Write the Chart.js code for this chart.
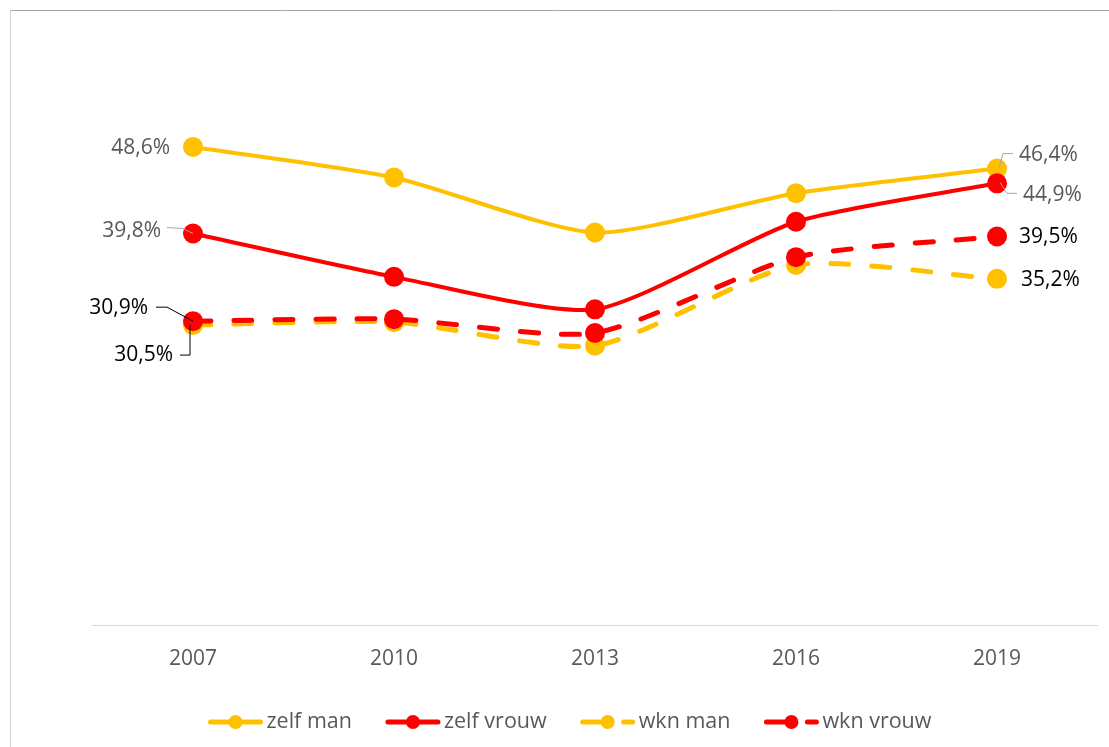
<!DOCTYPE html>
<html>
<head>
<meta charset="utf-8">
<script src="https://cdn.jsdelivr.net/npm/chart.js@4.4.1/dist/chart.umd.min.js"></script>
<style>
  html, body { margin: 0; padding: 0; background: #fff; }
  canvas { display: block; }
</style>
</head>
<body>
<canvas id="chart" width="1109" height="747"></canvas>
<script>
// data
const years = ['2007', '2010', '2013', '2016', '2019'];
const zelfMan = [48.6, 45.5, 39.9, 43.9, 46.4];
const zelfVrouw = [39.8, 35.4, 32.1, 41.0, 44.9];
const wknMan = [30.5, 30.8, 28.4, 36.6, 35.2];
const wknVrouw = [30.9, 31.1, 29.7, 37.4, 39.5];
const seriesNames = ['zelf man', 'zelf vrouw', 'wkn man', 'wkn vrouw'];

const YELLOW = '#FFC000';
const RED = '#FF0000';
const GREY_TEXT = '#595959';
const FONT = '"Open Sans", "DejaVu Sans", sans-serif';
const DASH = [18, 23];

// where the data labels go (offsets from their point), per series
const labelSpecs = [
  [
    { i: 0, dx: -23, dy: 1, align: 'right', color: GREY_TEXT },
    { i: 4, dx: 22, dy: -14, align: 'left', color: GREY_TEXT, leader: [[16, -15], [6, -15], [2, -1]], leaderColor: '#a6a6a6' }
  ],
  [
    { i: 0, dx: -32, dy: -3, align: 'right', color: GREY_TEXT, leader: [[-26, -6], [-10, -5], [0, 0]], leaderColor: '#a6a6a6' },
    { i: 4, dx: 26, dy: 12, align: 'left', color: GREY_TEXT, leader: [[3, -1], [10, 10], [20, 10]], leaderColor: '#a6a6a6' }
  ],
  [
    { i: 0, dx: -20, dy: 30, align: 'right', color: '#000', leader: [[-13, 30], [-3, 30], [-3, 0]], leaderColor: '#000' },
    { i: 4, dx: 24, dy: 1, align: 'left', color: '#000' }
  ],
  [
    { i: 0, dx: -45, dy: -13, align: 'right', color: '#000', leader: [[-37, -14], [-26, -14], [0, 0]], leaderColor: '#000' },
    { i: 4, dx: 22, dy: 1, align: 'left', color: '#000' }
  ]
];

function fmt(v) {
  return v.toFixed(1).replace('.', ',') + '%';
}

function makeSet(label, data, color, dashed, order) {
  return {
    label,
    data,
    borderColor: color,
    backgroundColor: color,
    borderWidth: dashed ? 5 : 4,
    borderDash: dashed ? DASH : [],
    borderCapStyle: 'round',
    pointRadius: 10,
    pointBorderWidth: 0,
    pointBackgroundColor: color,
    tension: 0.22,
    order
  };
}

// thin frame at the top and left edge
const framePlugin = {
  id: 'frame',
  beforeDraw(chart) {
    const ctx = chart.ctx;
    ctx.save();
    ctx.fillStyle = '#fff';
    ctx.fillRect(0, 0, chart.width, chart.height);
    ctx.lineWidth = 1;
    ctx.strokeStyle = '#a6a6a6';
    ctx.beginPath();
    ctx.moveTo(10, 10.5);
    ctx.lineTo(chart.width, 10.5);
    ctx.stroke();
    ctx.strokeStyle = '#d0d0d0';
    ctx.beginPath();
    ctx.moveTo(10.5, 10);
    ctx.lineTo(10.5, chart.height);
    ctx.stroke();
    ctx.restore();
  }
};

// data labels with leader lines
const labelPlugin = {
  id: 'dataLabels',
  afterDatasetsDraw(chart) {
    const ctx = chart.ctx;
    ctx.save();
    ctx.font = '21px ' + FONT;
    ctx.textBaseline = 'middle';
    chart.data.datasets.forEach((ds, di) => {
      const meta = chart.getDatasetMeta(di);
      (labelSpecs[di] || []).forEach(spec => {
        const pt = meta.data[spec.i];
        if (!pt) return;
        if (spec.leader) {
          ctx.strokeStyle = spec.leaderColor;
          ctx.lineWidth = 1;
          ctx.setLineDash([]);
          ctx.beginPath();
          spec.leader.forEach((p, k) => {
            const x = pt.x + p[0], y = pt.y + p[1];
            if (k === 0) ctx.moveTo(x, y); else ctx.lineTo(x, y);
          });
          ctx.stroke();
        }
        ctx.fillStyle = spec.color;
        ctx.textAlign = spec.align;
        ctx.fillText(fmt(ds.data[spec.i]), pt.x + spec.dx, pt.y + spec.dy);
      });
    });
    ctx.restore();
  }
};

// legend with line + marker swatches
const legendPlugin = {
  id: 'lineLegend',
  afterDraw(chart) {
    const ctx = chart.ctx;
    const sets = [...chart.data.datasets];
    const lineLen = 54, gap = 4, spacing = 34, y = 722, centre = 570;
    ctx.save();
    ctx.font = '21.5px ' + FONT;
    ctx.textBaseline = 'middle';
    ctx.textAlign = 'left';
    const widths = sets.map(ds => ctx.measureText(ds.label).width);
    const total = widths.reduce((s, w) => s + lineLen + gap + w, 0) + spacing * (sets.length - 1);
    let x = centre - total / 2;
    sets.forEach((ds, k) => {
      ctx.strokeStyle = ds.borderColor;
      ctx.lineWidth = 5;
      ctx.lineCap = 'round';
      ctx.setLineDash(ds.borderDash.length ? ds.borderDash : []);
      ctx.beginPath();
      ctx.moveTo(x + 2, y);
      ctx.lineTo(x + lineLen - 2, y);
      ctx.stroke();
      ctx.setLineDash([]);
      ctx.fillStyle = ds.borderColor;
      ctx.beginPath();
      ctx.arc(x + lineLen / 2, y, 7, 0, Math.PI * 2);
      ctx.fill();
      ctx.fillStyle = GREY_TEXT;
      ctx.fillText(ds.label, x + lineLen + gap, y);
      x += lineLen + gap + widths[k] + spacing;
    });
    ctx.restore();
  }
};

function draw() {
  new Chart(document.getElementById('chart'), {
    type: 'line',
    data: {
      labels: years,
      datasets: [
        makeSet(seriesNames[0], zelfMan, YELLOW, false, 4),
        makeSet(seriesNames[1], zelfVrouw, RED, false, 3),
        makeSet(seriesNames[2], wknMan, YELLOW, true, 2),
        makeSet(seriesNames[3], wknVrouw, RED, true, 1)
      ]
    },
    options: {
      responsive: false,
      devicePixelRatio: 1,
      animation: false,
      layout: { padding: { left: 92.5, right: 11.5, top: 34.7, bottom: 54.5 } },
      plugins: { legend: { display: false }, tooltip: { enabled: false } },
      scales: {
        x: {
          offset: true,
          grid: { display: false, drawTicks: false },
          border: { display: true, color: '#d9d9d9', width: 1 },
          ticks: { color: GREY_TEXT, font: { family: FONT, size: 21 }, padding: 21 }
        },
        y: { display: false, min: 0, max: 60 }
      }
    },
    plugins: [framePlugin, labelPlugin, legendPlugin]
  });
}

if (document.fonts && document.fonts.load) {
  document.fonts.load('21px "Open Sans"').then(draw, draw);
} else {
  draw();
}
</script>
</body>
</html>
